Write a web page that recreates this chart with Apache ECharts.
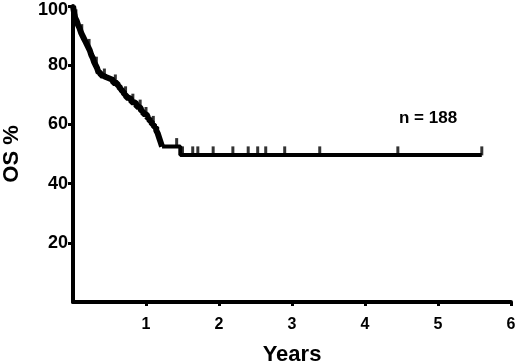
<!DOCTYPE html>
<html><head><meta charset="utf-8">
<script src="https://cdn.jsdelivr.net/npm/echarts@6/dist/echarts.min.js"></script>
<style>html,body{margin:0;padding:0;background:#fff}#c{width:520px;height:364px}</style>
</head><body><div id="c"></div>
<script>
// Kaplan-Meier step data: time (years) and survival (%)
var times = [0, 0.01, 0.02, 0.03, 0.05, 0.07, 0.09, 0.11, 0.13, 0.15, 0.17, 0.19, 0.21, 0.23, 0.25, 0.27, 0.29, 0.31, 0.33, 0.35, 0.38, 0.41, 0.45, 0.50, 0.55, 0.61, 0.64, 0.67, 0.70, 0.73, 0.76, 0.80, 0.84, 0.87, 0.90, 0.93, 0.96, 0.99, 1.02, 1.05, 1.08, 1.11, 1.14, 1.16, 1.18, 1.20, 1.22, 1.47, 5.60];
var survival = [100, 98.5, 97, 96, 95, 93.5, 92.5, 91, 90, 89, 88, 87, 86, 85, 83.5, 82.5, 81, 80, 79, 77.5, 76.5, 76, 75.5, 75, 74, 73, 72, 71, 70, 69, 68.5, 67.5, 67, 66, 65.5, 64.5, 63.5, 63, 62, 61, 60, 59, 58, 57, 55.5, 54, 52.5, 49.7, 49.7];
// censored observations
var censorTimes = [0.04, 0.12, 0.22, 0.32, 0.43, 0.58, 0.72, 0.82, 0.92, 1.00, 1.10, 1.42, 1.50, 1.64, 1.71, 1.92, 2.19, 2.40, 2.53, 2.64, 2.90, 3.38, 4.45, 5.60];
var censorSurv = [96, 91, 86, 80, 76, 74, 70, 67.5, 65.5, 63, 60, 52.5, 49.7, 49.7, 49.7, 49.7, 49.7, 49.7, 49.7, 49.7, 49.7, 49.7, 49.7, 49.7];
var xTicks = [0, 1, 2, 3, 4, 5, 6];
var yTicks = [0, 20, 40, 60, 80, 100];
var annotation = 'n = 188';

var font = '"Liberation Sans", Arial, sans-serif';
var chart = echarts.init(document.getElementById('c'), null, {renderer: 'canvas'});
var curve = times.map(function (t, i) { return [t, survival[i]]; });
var splitIdx = 47; // dense early part drawn heavier
var curveEarly = curve.slice(0, splitIdx);
var curveLate = curve.slice(splitIdx - 1);
var cens = censorTimes.map(function (t, i) { return [t, censorSurv[i]]; });
chart.setOption({
  animation: false,
  backgroundColor: '#fff',
  grid: {left: 73, right: 9, top: 6, bottom: 62, containLabel: false, outerBoundsMode: 'none'},
  xAxis: {
    type: 'value', min: xTicks[0], max: xTicks[xTicks.length - 1], interval: 1,
    name: 'Years', nameLocation: 'middle', nameGap: 42,
    nameTextStyle: {fontFamily: font, fontWeight: 'bold', fontSize: 22, color: '#000'},
    axisLine: {lineStyle: {color: '#000', width: 4}},
    axisTick: {show: true, length: 4, lineStyle: {color: '#000', width: 3}},
    axisLabel: {showMinLabel: false, fontFamily: font, fontWeight: 'bold', fontSize: 16, color: '#000', margin: 15},
    splitLine: {show: false}
  },
  yAxis: {
    type: 'value', min: yTicks[0], max: yTicks[yTicks.length - 1], interval: 20,
    name: 'OS %', nameLocation: 'middle', nameGap: 50, nameRotate: 90,
    nameTextStyle: {fontFamily: font, fontWeight: 'bold', fontSize: 22, color: '#000'},
    axisLine: {lineStyle: {color: '#000', width: 4}},
    axisTick: {show: true, length: 5, lineStyle: {color: '#000', width: 3}},
    axisLabel: {showMinLabel: false, fontFamily: font, fontWeight: 'bold', fontSize: 18, color: '#000', margin: 5,
      formatter: function (v) { return v === 100 ? '{top|' + v + '}' : String(v); },
      rich: {top: {fontFamily: font, fontWeight: 'bold', fontSize: 18, color: '#000', padding: [8, 0, 0, 0]}}},
    splitLine: {show: false}
  },
  series: [
    {type: 'line', step: 'end', data: curveEarly, showSymbol: false, symbol: 'none',
     lineStyle: {color: '#000', width: 6}, z: 3},
    {type: 'line', step: 'end', data: curveLate, showSymbol: false, symbol: 'none',
     lineStyle: {color: '#000', width: 4}, z: 3},
    {type: 'scatter', data: cens, symbol: 'rect', symbolSize: [3, 9], symbolOffset: [0, -4],
     itemStyle: {color: '#000'}, z: 4}
  ],
  graphic: [
    {type: 'text', left: 399, top: 110,
     style: {text: annotation, font: 'bold 17px ' + font, fill: '#000'}}
  ]
});
</script></body></html>
